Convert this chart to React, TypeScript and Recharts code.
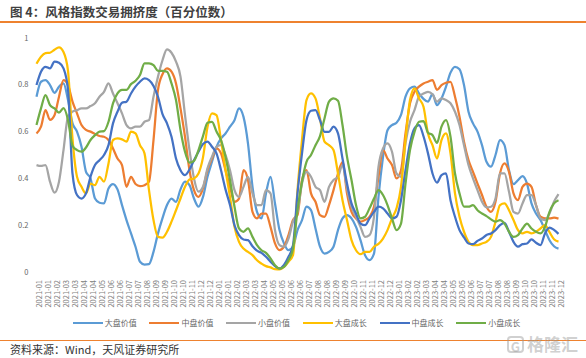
import React from 'react';
import { LineChart, Line, XAxis, YAxis, Legend } from 'recharts';

// tick labels (one per two data points)
const tickLabels = [
  '2021-01','2021-01','2021-02','2021-03','2021-03','2021-04','2021-04','2021-05','2021-06','2021-06',
  '2021-07','2021-07','2021-08','2021-09','2021-09','2021-10','2021-10','2021-11','2021-12','2021-12',
  '2022-01','2022-01','2022-02','2022-03','2022-03','2022-04','2022-05','2022-05','2022-06','2022-06',
  '2022-07','2022-08','2022-08','2022-09','2022-09','2022-10','2022-11','2022-11','2022-12','2022-12',
  '2023-01','2023-02','2023-02','2023-03','2023-04','2023-04','2023-05','2023-05','2023-06','2023-07',
  '2023-07','2023-08','2023-08','2023-09','2023-10','2023-10','2023-11','2023-11','2023-12',
];

const seriesNames = ['大盘价值', '中盘价值', '小盘价值', '大盘成长', '中盘成长', '小盘成长'];
const seriesColors = ['#5B9BD5', '#ED7D31', '#A5A5A5', '#FFC000', '#4472C4', '#70AD47'];

const largeValue = [
  0.749,0.813,0.82,0.799,0.766,0.792,0.806,0.735,0.635,0.6,0.535,0.428,0.4,0.314,0.296,0.293,0.357,0.376,0.353,0.286,0.222,0.165,0.108,0.044,0.032,0.034,0.086,0.165,0.23,
  0.286,0.314,0.3,0.353,0.386,0.371,0.314,0.279,0.321,0.407,0.471,0.535,0.571,0.592,0.621,0.649,0.699,0.663,0.549,0.364,0.257,0.229,0.336,0.407,0.293,0.179,0.122,0.093,0.108,
  0.179,0.222,0.279,0.264,0.186,0.108,0.079,0.086,0.108,0.179,0.229,0.243,0.229,0.193,0.136,0.072,0.051,0.079,0.321,0.492,0.606,0.628,0.638,0.671,0.749,0.785,0.792,0.763,0.74,
  0.728,0.76,0.713,0.742,0.792,0.852,0.877,0.866,0.799,0.685,0.635,0.6,0.542,0.471,0.45,0.5,0.564,0.542,0.435,0.376,0.393,0.41,0.378,0.293,0.25,0.222,0.179,0.136,0.11,0.1,
];

const midValue = [
  0.592,0.621,0.692,0.65,0.67,0.749,0.82,0.799,0.728,0.678,0.628,0.607,0.6,0.59,0.581,0.578,0.564,0.528,0.485,0.457,0.364,0.407,0.376,0.367,0.371,0.386,0.564,0.778,0.845,
  0.87,0.856,0.806,0.699,0.578,0.435,0.35,0.321,0.357,0.435,0.485,0.528,0.507,0.435,0.364,0.3,0.314,0.435,0.393,0.257,0.229,0.25,0.25,0.193,0.122,0.093,0.108,0.158,0.222,
  0.243,0.393,0.435,0.336,0.3,0.243,0.236,0.286,0.35,0.421,0.47,0.336,0.257,0.229,0.215,0.222,0.236,0.279,0.407,0.521,0.485,0.457,0.4,0.435,0.592,0.721,0.77,0.792,0.806,
  0.813,0.82,0.778,0.799,0.809,0.813,0.749,0.664,0.557,0.478,0.428,0.378,0.329,0.279,0.257,0.3,0.421,0.464,0.428,0.336,0.307,0.364,0.378,0.364,0.286,0.236,0.229,0.229,0.232,0.228,
];

const smallValue = [
  0.457,0.453,0.457,0.386,0.339,0.386,0.521,0.664,0.685,0.692,0.699,0.699,0.709,0.721,0.749,0.77,0.806,0.763,0.721,0.678,0.628,0.614,0.621,0.621,0.642,0.649,0.749,0.835,0.905,
  0.951,0.937,0.899,0.835,0.671,0.521,0.4,0.343,0.364,0.443,0.493,0.535,0.542,0.5,0.435,0.35,0.321,0.364,0.407,0.336,0.286,0.286,0.35,0.336,0.179,0.115,0.108,0.143,0.215,
  0.257,0.378,0.428,0.407,0.364,0.35,0.3,0.364,0.393,0.407,0.457,0.357,0.279,0.236,0.193,0.15,0.158,0.236,0.45,0.528,0.55,0.514,0.421,0.407,0.55,0.642,0.692,0.749,0.763,
  0.77,0.76,0.728,0.742,0.735,0.721,0.685,0.628,0.542,0.457,0.4,0.35,0.3,0.276,0.279,0.314,0.421,0.421,0.343,0.257,0.25,0.293,0.329,0.329,0.286,0.229,0.222,0.25,0.3,0.333,
];

const largeGrowth = [
  0.89,0.92,0.935,0.937,0.95,0.96,0.94,0.86,0.57,0.407,0.364,0.336,0.378,0.371,0.407,0.386,0.464,0.564,0.571,0.567,0.557,0.6,0.592,0.542,0.507,0.35,0.222,0.15,0.147,
  0.172,0.215,0.264,0.314,0.364,0.395,0.4,0.421,0.49,0.62,0.678,0.67,0.564,0.436,0.321,0.193,0.129,0.1,0.086,0.072,0.05,0.036,0.025,0.02,0.012,0.011,0.022,0.044,0.072,
  0.35,0.564,0.735,0.763,0.742,0.656,0.557,0.542,0.521,0.421,0.307,0.222,0.136,0.093,0.076,0.086,0.086,0.108,0.12,0.143,0.179,0.229,0.272,0.364,0.564,0.735,0.785,0.742,0.706,
  0.592,0.542,0.485,0.564,0.592,0.507,0.336,0.236,0.172,0.129,0.115,0.115,0.122,0.129,0.15,0.215,0.286,0.293,0.264,0.222,0.179,0.165,0.172,0.165,0.172,0.186,0.2,0.17,0.14,0.13,
];

const midGrowth = [
  0.799,0.856,0.877,0.87,0.899,0.894,0.87,0.78,0.42,0.329,0.314,0.336,0.407,0.457,0.478,0.5,0.542,0.635,0.685,0.723,0.728,0.763,0.792,0.813,0.827,0.82,0.795,0.749,0.675,
  0.635,0.578,0.485,0.435,0.414,0.438,0.478,0.514,0.547,0.557,0.535,0.507,0.435,0.353,0.286,0.2,0.158,0.139,0.136,0.11,0.091,0.082,0.065,0.044,0.025,0.015,0.03,0.065,0.115,
  0.336,0.507,0.649,0.689,0.692,0.649,0.599,0.599,0.621,0.592,0.485,0.378,0.293,0.25,0.207,0.2,0.229,0.257,0.279,0.272,0.25,0.229,0.236,0.307,0.435,0.55,0.614,0.628,0.58,
  0.507,0.421,0.382,0.414,0.421,0.307,0.236,0.179,0.148,0.122,0.119,0.133,0.143,0.158,0.165,0.179,0.2,0.21,0.172,0.129,0.108,0.119,0.122,0.139,0.125,0.115,0.165,0.19,0.18,0.163,
];

const smallGrowth = [
  0.628,0.699,0.756,0.713,0.699,0.681,0.7,0.65,0.54,0.521,0.514,0.532,0.564,0.585,0.6,0.602,0.642,0.721,0.763,0.778,0.778,0.803,0.817,0.842,0.892,0.892,0.884,0.86,0.86,
  0.856,0.806,0.735,0.607,0.514,0.467,0.475,0.521,0.581,0.638,0.642,0.6,0.564,0.493,0.393,0.279,0.186,0.172,0.186,0.15,0.115,0.093,0.082,0.058,0.029,0.015,0.022,0.051,0.1,
  0.264,0.386,0.471,0.5,0.542,0.581,0.656,0.728,0.742,0.732,0.628,0.493,0.393,0.286,0.229,0.236,0.272,0.314,0.35,0.329,0.286,0.229,0.179,0.207,0.378,0.521,0.599,0.642,0.645,
  0.595,0.585,0.552,0.621,0.649,0.578,0.421,0.336,0.279,0.279,0.286,0.264,0.25,0.239,0.225,0.215,0.222,0.207,0.172,0.15,0.158,0.186,0.207,0.186,0.172,0.165,0.193,0.257,0.293,0.307,
];

const yTicks = [0, 0.2, 0.4, 0.6, 0.8, 1];

const allSeries = [largeValue, midValue, smallValue, largeGrowth, midGrowth, smallGrowth];
const keys = ['s0', 's1', 's2', 's3', 's4', 's5'];

const data = largeValue.map((_, i) => {
  const row: Record<string, number> = { idx: i };
  allSeries.forEach((s, j) => { row[keys[j]] = s[i]; });
  return row;
});

const FONT = '"Noto Sans CJK SC", "Noto Sans", sans-serif';

const LegendContent = () => (
  <div style={{ position: 'relative', width: 586, height: 14 }}>
    {seriesNames.map((name, i) => (
      <div key={name} style={{ position: 'absolute', left: 72.7 + i * 76.7, top: 0, height: 14, display: 'flex', alignItems: 'center' }}>
        <div style={{ width: 30, height: 2.5, background: seriesColors[i] }} />
        <span style={{ marginLeft: 2, fontSize: 8, color: '#666', fontFamily: FONT, lineHeight: '14px' }}>{name}</span>
      </div>
    ))}
  </div>
);

export default function App() {
  return (
    <div style={{ position: 'absolute', left: 0, top: 0, width: 586, height: 358, background: '#fff', overflow: 'hidden', fontFamily: FONT }}>
      <div style={{ position: 'absolute', left: 10, top: 2.5, fontSize: 12.5, fontWeight: 700, color: '#404040', lineHeight: '18px', whiteSpace: 'nowrap' }}>
        图 4：风格指数交易拥挤度（百分位数）
      </div>
      <div style={{ position: 'absolute', left: 0, top: 21, width: 586, height: 1.5, background: '#EE822F' }} />
      <LineChart width={586} height={358} data={data} margin={{ top: 38, right: 27.5, bottom: 46, left: 0 }} style={{ position: 'absolute', left: 0, top: 0, fontFamily: FONT }}>
        <XAxis
          dataKey="idx"
          type="category"
          interval={1}
          height={40}
          axisLine={false}
          tickLine={false}
          tickFormatter={(v: number) => tickLabels[Math.round(v / 2)] ?? ''}
          tick={{ fontSize: 7.5, fill: '#808080', angle: -90, textAnchor: 'end', verticalAnchor: 'middle' } as any}
        />
        <YAxis
          width={36.5}
          domain={[0, 1]}
          ticks={yTicks}
          axisLine={false}
          tickLine={false}
          tickFormatter={(v: number) => String(v)}
          tick={{ fontSize: 7.5, fill: '#666' }}
        />
        <Legend
          layout="horizontal"
          verticalAlign="middle"
          align="center"
          wrapperStyle={{ position: 'absolute', left: 0, top: 316, width: 586 }}
          content={<LegendContent />}
        />
        {keys.map((k, i) => (
          <Line key={k} dataKey={k} name={seriesNames[i]} type="monotone" stroke={seriesColors[i]} strokeWidth={2.25} dot={false} activeDot={false} isAnimationActive={false} />
        ))}
      </LineChart>
      <div style={{ position: 'absolute', left: 0, top: 339.5, width: 586, height: 1.5, background: '#EE822F' }} />
      <div style={{ position: 'absolute', left: 10, top: 341, fontSize: 11, color: '#333', lineHeight: '16px', whiteSpace: 'nowrap' }}>
        资料来源：Wind，天风证券研究所
      </div>
      <div style={{ position: 'absolute', left: 507, top: 334, display: 'flex', alignItems: 'center', color: 'rgba(150,150,150,0.45)' }}>
        <div style={{ width: 17, height: 17, border: '2px solid rgba(150,150,150,0.45)', borderRadius: 4, fontSize: 13, fontWeight: 700, lineHeight: '17px', textAlign: 'center', boxSizing: 'border-box' }}>G</div>
        <span style={{ marginLeft: 3, fontSize: 17, fontWeight: 700, lineHeight: '20px' }}>格隆汇</span>
      </div>
    </div>
  );
}
